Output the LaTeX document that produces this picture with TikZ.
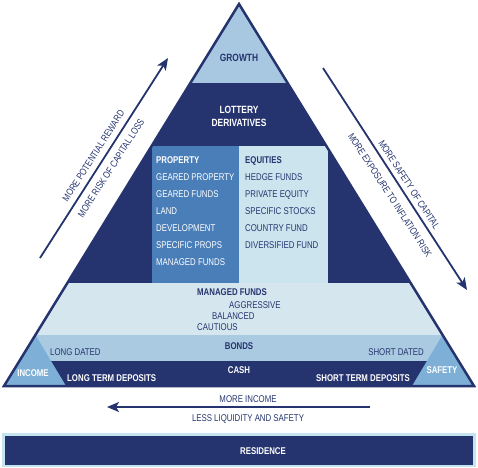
\documentclass[tikz,border=0pt]{standalone}
\usepackage{fontspec}
\setmainfont{Liberation Sans}[FakeStretch=0.8]
\usetikzlibrary{arrows.meta}
\definecolor{navy}{RGB}{37,52,110}
\definecolor{growthc}{RGB}{168,200,226}
\definecolor{managedc}{RGB}{214,230,239}
\definecolor{bondsc}{RGB}{170,202,225}
\definecolor{propc}{RGB}{74,126,184}
\definecolor{equc}{RGB}{204,228,238}
\definecolor{cornerc}{RGB}{126,176,215}
\definecolor{resc}{RGB}{196,228,240}
\tikzset{
  lbl/.style={inner sep=0pt, text height=7pt, text depth=0pt, font=\fontsize{9.8}{11}\selectfont},
  blbl/.style={inner sep=0pt, text height=7pt, text depth=0pt, font=\fontsize{9.8}{11}\selectfont\bfseries},
  biglbl/.style={inner sep=0pt, text height=7.6pt, text depth=0pt, font=\fontsize{10.5}{13}\selectfont\bfseries},
  navytxt/.style={text=navy},
  whitetxt/.style={text=white},
  arr/.style={draw=navy, line width=1.8pt, -{Stealth[length=12pt,width=10pt,inset=3pt]}},
}
\begin{document}
\begin{tikzpicture}[x=1pt,y=-1pt]
\useasboundingbox (0,0) rectangle (478,467);
\coordinate (apex) at (239,4);
\coordinate (bl) at (4,386);
\coordinate (br) at (474,386);
\begin{scope}
  \clip (apex) -- (bl) -- (br) -- cycle;
  \fill[navy] (0,0) rectangle (478,390);
  \fill[growthc] (0,0) rectangle (478,83);
  \fill[managedc] (0,283) rectangle (478,335);
  \fill[bondsc] (0,335) rectangle (478,361);
\end{scope}
\fill[propc] (152,146) rectangle (239,283);
\fill[equc] (239,146) rectangle (328,283);
\fill[cornerc] (bl) -- (35.5,335) -- (66,386) -- cycle;
\fill[cornerc] (br) -- (442.5,335) -- (412,386) -- cycle;
\draw[navy, line width=2.5pt] (apex) -- (bl) -- (br) -- cycle;

% top
\node[biglbl, navytxt] (growth) at (239,58) {GROWTH};
\node[whitetxt, inner sep=0pt, align=center, font=\fontsize{10.5}{13}\selectfont\bfseries] (lottery) at (239,116.5) {LOTTERY\\DERIVATIVES};

% property column
\node[blbl, whitetxt, anchor=west] (p0) at (156,160) {PROPERTY};
\node[lbl, whitetxt, anchor=west] (p1) at (156,177) {GEARED PROPERTY};
\node[lbl, whitetxt, anchor=west] (p2) at (156,194) {GEARED FUNDS};
\node[lbl, whitetxt, anchor=west] (p3) at (156,211) {LAND};
\node[lbl, whitetxt, anchor=west] (p4) at (156,228) {DEVELOPMENT};
\node[lbl, whitetxt, anchor=west] (p5) at (156,245) {SPECIFIC PROPS};
\node[lbl, whitetxt, anchor=west] (p6) at (156,262) {MANAGED FUNDS};
% equities column
\node[blbl, navytxt, anchor=west] (e0) at (245,160) {EQUITIES};
\node[lbl, navytxt, anchor=west] (e1) at (245,177) {HEDGE FUNDS};
\node[lbl, navytxt, anchor=west] (e2) at (245,194) {PRIVATE EQUITY};
\node[lbl, navytxt, anchor=west] (e3) at (245,211) {SPECIFIC STOCKS};
\node[lbl, navytxt, anchor=west] (e4) at (245,228) {COUNTRY FUND};
\node[lbl, navytxt, anchor=west] (e5) at (245,245) {DIVERSIFIED FUND};

% managed funds
\node[blbl, navytxt, anchor=west] (mf) at (197,292) {MANAGED FUNDS};
\node[lbl, navytxt, anchor=west] (agg) at (229,304.5) {AGGRESSIVE};
\node[lbl, navytxt, anchor=west] (bal) at (212,316) {BALANCED};
\node[lbl, navytxt, anchor=west] (cau) at (197,327) {CAUTIOUS};

% bonds
\node[blbl, navytxt] (bonds) at (239,346) {BONDS};
\node[lbl, navytxt, anchor=west] (ld) at (50,352) {LONG DATED};
\node[lbl, navytxt, anchor=east] (sd) at (424,352) {SHORT DATED};

% cash
\node[blbl, whitetxt] (cash) at (239,370) {CASH};
\node[blbl, whitetxt, anchor=west] (ltd) at (67,377.5) {LONG TERM DEPOSITS};
\node[blbl, whitetxt, anchor=east] (std) at (410,377.5) {SHORT TERM DEPOSITS};

% corners
\node[blbl, whitetxt] (income) at (33,373) {INCOME};
\node[blbl, whitetxt] (safety) at (442,370) {SAFETY};

% left arrow
\coordinate (la0) at (40,258);
\coordinate (la1) at (168,58);
\draw[arr] (la0) -- (la1);
\node[lbl, navytxt, rotate=57.4] (reward) at (93.3,155.9) {MORE POTENTIAL REWARD};
\node[lbl, navytxt, rotate=57.4] (risk) at (111,168) {MORE RISK OF CAPITAL LOSS};

% right arrow
\coordinate (ra0) at (323,68);
\coordinate (ra1) at (467,290);
\draw[arr] (ra0) -- (ra1);
\node[lbl, navytxt, rotate=-57] (safe) at (409.2,184.6) {MORE SAFETY OF CAPITAL};
\node[lbl, navytxt, rotate=-57] (infl) at (390,195) {MORE EXPOSURE TO INFLATION RISK};

% bottom arrow
\coordinate (ba0) at (370,407);
\coordinate (ba1) at (107,407);
\draw[arr] (ba0) -- (ba1);
\node[lbl, navytxt] (moreinc) at (248,399) {MORE INCOME};
\node[lbl, navytxt] (lessliq) at (248,418) {LESS LIQUIDITY AND SAFETY};

% residence
\fill[resc] (2,433) rectangle (476,467);
\fill[navy] (5,435.5) rectangle (473,464.5);
\node[blbl, whitetxt] (res) at (263,451) {RESIDENCE};
\end{tikzpicture}
\end{document}
